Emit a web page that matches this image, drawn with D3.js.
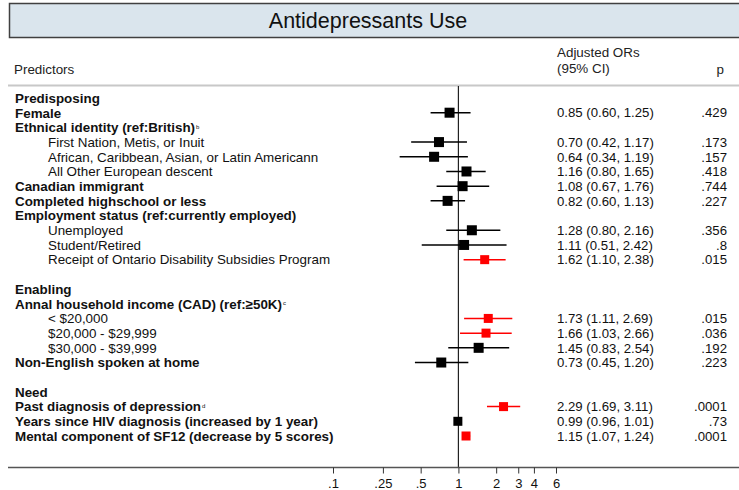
<!DOCTYPE html>
<html>
<head>
<meta charset="utf-8">
<script src="https://cdn.jsdelivr.net/npm/d3@7"></script>
<style>
  body { margin: 0; background: #fff; }
  text { font-family: "Liberation Sans", Arial, sans-serif; }
</style>
</head>
<body>
<svg id="canvas"></svg>
<script>
// rows of the table, top to bottom ("" = blank spacer row)
let labels = [
  "Predisposing", "Female", "Ethnical identity (ref:British)",
  "First Nation, Metis, or Inuit", "African, Caribbean, Asian, or Latin Americann", "All Other European descent",
  "Canadian immigrant", "Completed highschool or less", "Employment status (ref:currently employed)",
  "Unemployed", "Student/Retired", "Receipt of Ontario Disability Subsidies Program",
  "",
  "Enabling", "Annal household income (CAD) (ref:\u226550K)",
  "< $20,000", "$20,000 - $29,999", "$30,000 - $39,999",
  "Non-English spoken at home",
  "",
  "Need", "Past diagnosis of depression", "Years since HIV diagnosis (increased by 1 year)",
  "Mental component of SF12 (decrease by 5 scores)"
]
// h = heading (bold), i = indented sub item
let levels = ["h","h","h","i","i","i","h","h","h","i","i","i","",
              "h","h","i","i","i","h","",
              "h","h","h","h"]
let notes = ["","","b","","","","","","","","","","","","c","","","","","","","d","",""]

let ors = [null,0.85,null,0.70,0.64,1.16,1.08,0.82,null,1.28,1.11,1.62,null,
           null,null,1.73,1.66,1.45,0.73,null,
           null,2.29,0.99,1.15]
let lows = [null,0.60,null,0.42,0.34,0.80,0.67,0.60,null,0.80,0.51,1.10,null,
            null,null,1.11,1.03,0.83,0.45,null,
            null,1.69,0.96,1.07]
let highs = [null,1.25,null,1.17,1.19,1.65,1.76,1.13,null,2.16,2.42,2.38,null,
             null,null,2.69,2.66,2.54,1.20,null,
             null,3.11,1.01,1.24]
let pvals = ["",".429","",".173",".157",".418",".744",".227","",".356",".8",".015","",
             "","",".015",".036",".192",".223","",
             "",".0001",".73",".0001"]

let ticks = [0.1, 0.25, 0.5, 1, 2, 3, 4, 6]
let tickLabels = [".1", ".25", ".5", "1", "2", "3", "4", "6"]

let width = 739
let height = 490
let fs = '13.4px'

let svg = d3.select('#canvas').attr('width', width).attr('height', height)

let xScale = d3.scaleLog().domain([0.1, 6]).range([333, 556])
let yScale = d3.scalePoint().domain(d3.range(labels.length)).range([98, 436])

let fmt = d3.format('.2f')

// title box
svg.append('rect')
  .attr('x', 9.5).attr('y', 3.5).attr('width', 740).attr('height', 34)
  .attr('fill', '#dae5ed').attr('stroke', '#404040').attr('stroke-width', 1.5)
svg.append('text')
  .attr('x', 368).attr('y', 28).attr('text-anchor', 'middle')
  .style('font-size', '21.5px').attr('fill', '#111')
  .text('Antidepressants Use')

// header
let head = svg.append('g').style('font-size', fs).attr('fill', '#222')
head.append('text').attr('x', 14).attr('y', 74).text('Predictors')
head.append('text').attr('x', 557).attr('y', 57).text('Adjusted ORs')
head.append('text').attr('x', 557).attr('y', 73).text('(95% CI)')
head.append('text').attr('x', 724).attr('y', 74).attr('text-anchor', 'end').text('p')

svg.append('line').attr('x1', 8).attr('x2', width).attr('y1', 85.5).attr('y2', 85.5)
  .attr('stroke', '#c8c8c8').attr('stroke-width', 2)

// reference line at OR = 1
svg.append('line')
  .attr('x1', xScale(1)).attr('x2', xScale(1)).attr('y1', 86).attr('y2', 467)
  .attr('stroke', '#222').attr('stroke-width', 1.2)

let rows = labels.map((d, i) => ({label: d, level: levels[i], note: notes[i],
  or: ors[i], lo: lows[i], hi: highs[i], p: pvals[i], i: i}))

// labels
let lab = svg.append('g').style('font-size', fs)
rows.filter(d => d.label).forEach(d => {
  let t = lab.append('text')
    .attr('x', d.level == 'i' ? 48 : 15)
    .attr('y', yScale(d.i)).attr('dy', '0.36em')
    .attr('fill', '#111')
    .style('font-weight', d.level == 'h' ? 'bold' : 'normal')
    .text(d.label)
  if (d.note) {
    t.append('tspan').attr('dx', 1).attr('dy', '-0.55em').style('font-size', '6px')
      .style('font-weight', 'normal').text(d.note)
  }
})

let est = rows.filter(d => d.or != null)
let sig = d => d.lo > 1 || d.hi < 1
let col = d => sig(d) ? '#ff0000' : '#000000'

// confidence intervals
svg.append('g').selectAll('line').data(est).join('line')
  .attr('x1', d => xScale(d.lo)).attr('x2', d => xScale(d.hi))
  .attr('y1', d => yScale(d.i)).attr('y2', d => yScale(d.i))
  .attr('stroke', col).attr('stroke-width', 1.5)

// point estimates
let sq = d => sig(d) ? 9 : (d.hi - d.lo < 0.1 ? 9 : 10)
svg.append('g').selectAll('rect').data(est).join('rect')
  .attr('x', d => xScale(d.or) - sq(d) / 2)
  .attr('y', d => yScale(d.i) - sq(d) / 2)
  .attr('width', sq).attr('height', sq)
  .attr('fill', col)

// estimate text and p values
let txt = svg.append('g').style('font-size', '13.2px').attr('fill', '#111')
txt.selectAll('.ci').data(est).join('text')
  .attr('x', 557).attr('y', d => yScale(d.i)).attr('dy', '0.36em')
  .text(d => `${fmt(d.or)} (${fmt(d.lo)}, ${fmt(d.hi)})`)
txt.selectAll('.pv').data(est).join('text')
  .attr('x', 727).attr('y', d => yScale(d.i)).attr('dy', '0.36em')
  .attr('text-anchor', 'end')
  .text(d => d.p)

// bottom axis
svg.append('line').attr('x1', 8).attr('x2', width).attr('y1', 467.5).attr('y2', 467.5)
  .attr('stroke', '#555').attr('stroke-width', 1.5)

let xAxis = d3.axisBottom(xScale).tickValues(ticks)
  .tickFormat((d, i) => tickLabels[i]).tickSize(6).tickPadding(5)
let ax = svg.append('g').attr('transform', 'translate(0,467.5)').call(xAxis)
ax.select('.domain').remove()
ax.selectAll('line').attr('stroke', '#333')
ax.selectAll('text').style('font-size', '13px').attr('fill', '#111')
  .style('font-family', '"Liberation Sans", Arial, sans-serif')
</script>
</body>
</html>
